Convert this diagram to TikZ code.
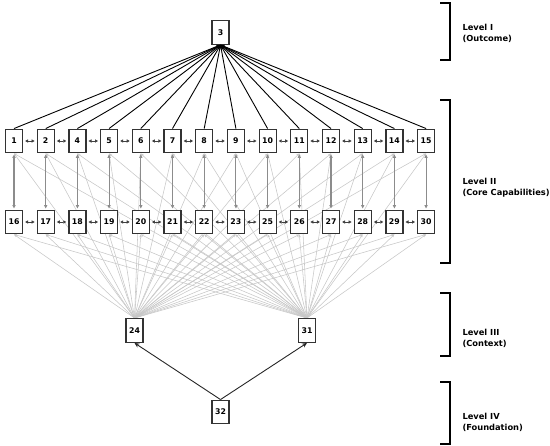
\documentclass[tikz,border=0pt]{standalone}
\usepackage{fontspec}
\setmainfont{DejaVu Sans}
\usetikzlibrary{arrows.meta}
\pgfdeclarelayer{bg}
\pgfsetlayers{bg,main}
\begin{document}
\begin{tikzpicture}[x=1pt,y=-1pt,
 box/.style={draw=black!80, line width=1.2pt, fill=white, minimum width=17pt, minimum height=23.7pt, inner sep=0pt, font=\bfseries\fontsize{7.8}{8}\selectfont},
 toout/.style={-{Stealth[length=4pt,width=3.5pt]}, black, line width=0.9pt},
 fan/.style={-{Stealth[length=3pt,width=2.5pt]}, black!22, line width=0.55pt},
 vert/.style={{Triangle[length=3.5pt,width=3.2pt]}-{Triangle[length=3.5pt,width=3.2pt]}, black!45, line width=1.1pt, shorten <=1pt, shorten >=1pt},
 horiz/.style={{Triangle[length=3pt,width=3.2pt]}-{Triangle[length=3pt,width=3.2pt]}, black!75, line width=0.8pt, shorten <=2pt, shorten >=2pt},
 found/.style={-{Stealth[length=5pt,width=4.5pt]}, black!85, line width=0.9pt},
 lvl/.style={anchor=west, align=left, font=\bfseries\fontsize{8.3}{11}\selectfont},
 brk/.style={line width=1.3pt, black}]
\useasboundingbox (0,0) rectangle (550,446);
% nodes
\node[box] (n3) at (220.5,32.5) {3};
\foreach \l [count=\i from 0] in {1,2,4,5,6,7,8,9,10,11,12,13,14,15}
  \node[box] (n\l) at ({14+31.7*\i},141) {\l};
\foreach \l [count=\i from 0] in {16,17,18,19,20,21,22,23,25,26,27,28,29,30}
  \node[box] (n\l) at ({14+31.7*\i},222) {\l};
\node[box] (n24) at (134.5,330.5) {24};
\node[box] (n31) at (307,330.5) {31};
\node[box] (n32) at (220.5,412) {32};
% edges
\begin{pgfonlayer}{bg}
\foreach \l in {1,2,4,5,6,7,8,9,10,11,12,13,14,15,16,17,18,19,20,21,22,23,25,26,27,28,29,30}{
  \draw[fan] (n24.north) -- (n\l.south);
  \draw[fan] (n31.north) -- (n\l.south);
}
\end{pgfonlayer}
\foreach \l in {1,2,4,5,6,7,8,9,10,11,12,13,14,15}
  \draw[toout] (n\l.north) -- (n3.south);
\foreach \a/\b in {1/16,2/17,4/18,5/19,6/20,7/21,8/22,9/23,10/25,11/26,12/27,13/28,14/29,15/30}
  \draw[vert] (n\a.south) -- (n\b.north);
\foreach \a/\b in {1/2,2/4,4/5,5/6,6/7,7/8,8/9,9/10,10/11,11/12,12/13,13/14,14/15,16/17,17/18,18/19,19/20,20/21,21/22,22/23,23/25,25/26,26/27,27/28,28/29,29/30}
  \draw[horiz] (n\a.east) -- (n\b.west);
\draw[found] (n32.north) -- (n24.south);
\draw[found] (n32.north) -- (n31.south);
% brackets
\draw[brk] (440,3) -- (450,3) -- (450,60) -- (440,60);
\draw[brk] (440,100) -- (450,100) -- (450,263) -- (440,263);
\draw[brk] (440,293) -- (450,293) -- (450,356) -- (440,356);
\draw[brk] (440,382) -- (450,382) -- (450,444) -- (440,444);
\node[lvl] (l1) at (459,33.5) {Level I\\(Outcome)};
\node[lvl] (l2) at (459,188) {Level II\\(Core Capabilities)};
\node[lvl] (l3) at (459,338.5) {Level III\\(Context)};
\node[lvl] (l4) at (459,422) {Level IV\\(Foundation)};
\end{tikzpicture}
\end{document}
